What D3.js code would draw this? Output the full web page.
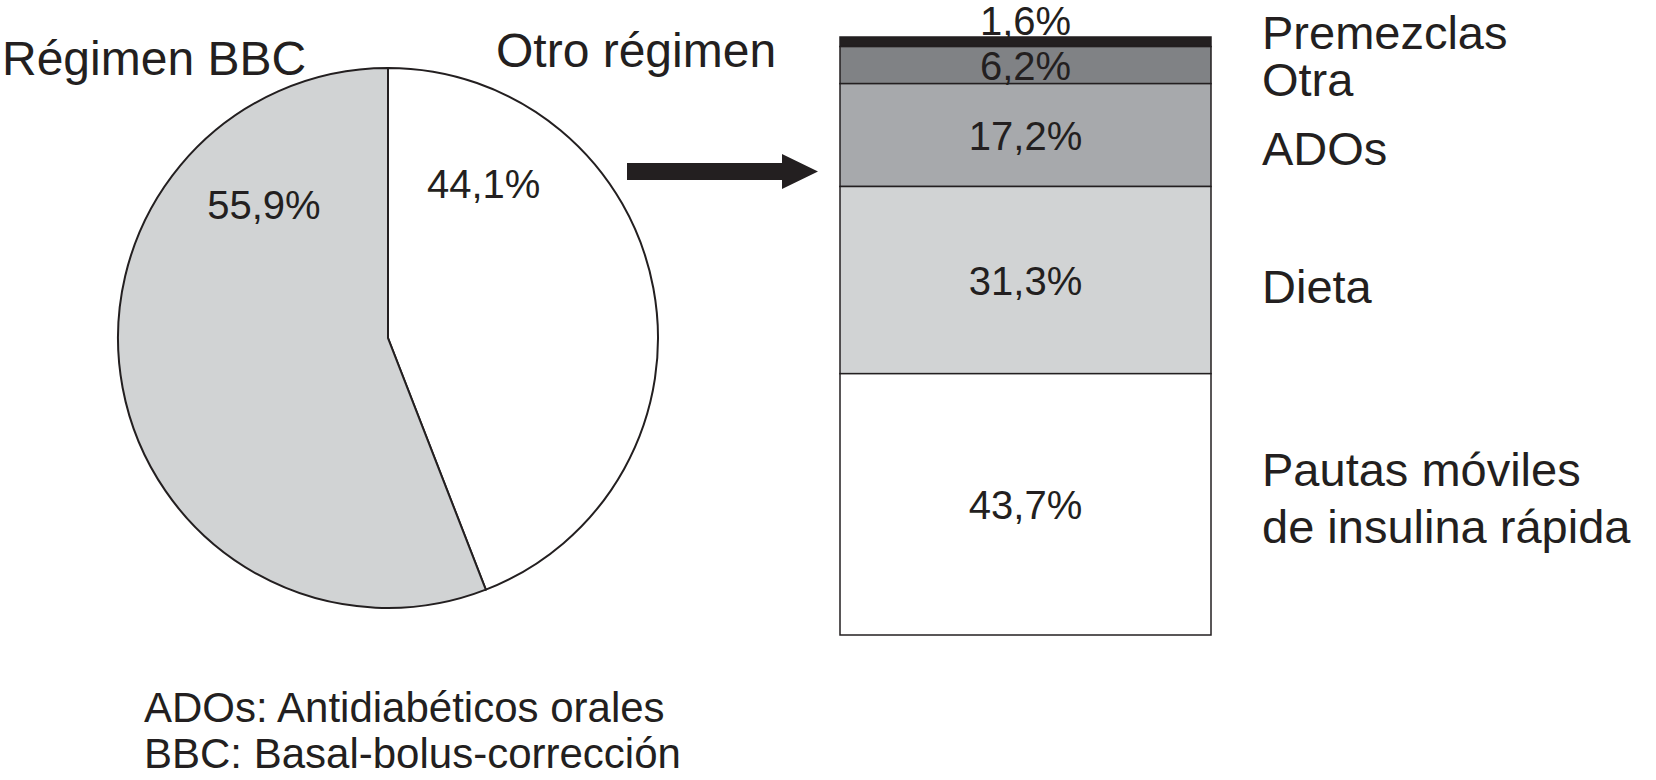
<!DOCTYPE html>
<html>
<head>
<meta charset="utf-8">
<script src="https://cdn.jsdelivr.net/npm/d3@7"></script>
<style>
  body { margin: 0; background: #fff; }
  text { font-family: "Liberation Sans", Arial, sans-serif; fill: #231f20; }
</style>
</head>
<body>
<div id="chart"></div>
<script>
// pie data
const pieNames = ["Otro régimen", "Régimen BBC"];
const pieValues = [44.1, 55.9];
const pieLabels = ["44,1%", "55,9%"];

// stacked bar data (top to bottom)
const barNames = ["Premezclas", "Otra", "ADOs", "Dieta", "Pautas móviles|de insulina rápida"];
const barValues = [1.6, 6.2, 17.2, 31.3, 43.7];
const barLabels = ["1,6%", "6,2%", "17,2%", "31,3%", "43,7%"];

const notes = ["ADOs: Antidiabéticos orales", "BBC: Basal-bolus-corrección"];

const width = 1656, height = 780;
const svg = d3.select("#chart").append("svg")
    .attr("width", width)
    .attr("height", height);

// ---- pie ----
const cx = 388, cy = 338, r = 270;
const pieColors = ["#ffffff", "#d1d3d4"];

const pie = d3.pie().sort(null).value(d => d)(pieValues);
const arc = d3.arc().innerRadius(0).outerRadius(r);

const pg = svg.append("g").attr("transform", `translate(${cx},${cy})`);
pg.selectAll("path")
    .data(pie)
  .enter().append("path")
    .attr("d", arc)
    .attr("fill", (d, i) => pieColors[i])
    .attr("stroke", "#231f20")
    .attr("stroke-width", 2);

// labels sit in the upper part of each slice
const labelAngle = [31.7, -43];
pg.selectAll(".plabel")
    .data(pieLabels)
  .enter().append("text")
    .attr("class", "plabel")
    .attr("transform", (d, i) => {
      const p = d3.pointRadial(labelAngle[i] * Math.PI / 180, 182);
      return `translate(${p[0]},${p[1]})`;
    })
    .attr("dy", "0.36em")
    .attr("text-anchor", "middle")
    .style("font-size", "40px")
    .text(d => d);

svg.append("text").attr("x", 2).attr("y", 75)
    .style("font-size", "48px").text(pieNames[1]);
svg.append("text").attr("x", 496).attr("y", 67)
    .style("font-size", "48px").text(pieNames[0]);

// ---- arrow ----
svg.append("path")
    .attr("d", "M627,163 H782 V154 L818,171.5 L782,189 V180 H627 Z")
    .attr("fill", "#231f20");

// ---- stacked bar ----
const bx0 = 840, bx1 = 1211;
const y = d3.scaleLinear().domain([0, d3.sum(barValues)]).range([37, 635]);
const barColors = ["#231f20", "#808285", "#a7a9ac", "#d1d3d4", "#ffffff"];

let acc = 0;
const segs = barValues.map((v, i) => {
  const s = { i: i, y0: acc, y1: acc + v };
  acc += v;
  return s;
});

const bg = svg.append("g");
bg.selectAll("rect")
    .data(segs)
  .enter().append("rect")
    .attr("x", bx0)
    .attr("width", bx1 - bx0)
    .attr("y", d => y(d.y0))
    .attr("height", d => y(d.y1) - y(d.y0))
    .attr("fill", d => barColors[d.i])
    .attr("stroke", "#231f20")
    .attr("stroke-width", 1.5);

const bmid = (bx0 + bx1) / 2;
bg.selectAll(".blabel")
    .data(segs)
  .enter().append("text")
    .attr("class", "blabel")
    .attr("x", bmid)
    .attr("y", d => d.i === 0 ? y(d.y0) - 2 : (y(d.y0) + y(d.y1)) / 2 + 15)
    .attr("text-anchor", "middle")
    .style("font-size", "40px")
    .text(d => barLabels[d.i]);

// category names to the right
const nameY = [49, 96, 165, 303, 486];
const ng = svg.append("g");
barNames.forEach((n, i) => {
  const t = ng.append("text")
      .attr("x", 1262)
      .attr("y", nameY[i])
      .style("font-size", "47px");
  n.split("|").forEach((line, k) => {
    t.append("tspan").attr("x", 1262).attr("dy", k === 0 ? 0 : 57).text(line);
  });
});

// ---- notes ----
svg.selectAll(".note")
    .data(notes)
  .enter().append("text")
    .attr("class", "note")
    .attr("x", 144)
    .attr("y", (d, i) => 722 + i * 46)
    .style("font-size", "42px")
    .text(d => d);
</script>
</body>
</html>
